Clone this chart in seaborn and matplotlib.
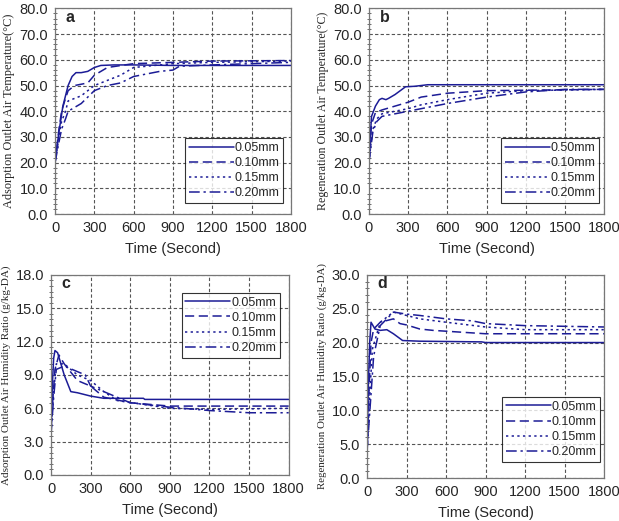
import numpy as np
import pandas as pd
import matplotlib
matplotlib.use("Agg")
import matplotlib.pyplot as plt
import seaborn as sns
from matplotlib.ticker import MultipleLocator, AutoMinorLocator

# ---------------- data ----------------
labels_a = ["0.05mm", "0.10mm", "0.15mm", "0.20mm"]
labels_b = ["0.50mm", "0.10mm", "0.15mm", "0.20mm"]

# panel a: adsorption outlet air temperature
a_t1 = [0, 30, 60, 100, 130, 160, 200, 250, 300, 350, 450, 600, 900, 1800]
a_y1 = [20, 32, 42, 50, 53.5, 55, 55, 55.5, 57, 57.8, 58, 58, 57.8, 57.8]
a_t2 = [0, 30, 50, 80, 100, 150, 250, 300, 400, 600, 900, 1200, 1800]
a_y2 = [20, 33, 40, 45, 48, 50, 51, 54, 57, 58.5, 59, 59.5, 59.7]
a_t3 = [0, 30, 50, 80, 100, 200, 300, 400, 500, 600, 900, 1200, 1800]
a_y3 = [20, 30, 36, 40, 44, 46, 50, 52, 54, 57, 58.5, 59, 59.5]
a_t4 = [0, 30, 50, 80, 100, 200, 300, 400, 500, 600, 800, 900, 950, 1200, 1800]
a_y4 = [20, 28, 33, 37, 40, 43, 48, 50, 51, 53.5, 55.5, 56, 57.5, 58, 59]

# panel b: regeneration outlet air temperature
b_t1 = [0, 10, 20, 50, 80, 100, 130, 150, 200, 280, 350, 450, 1800]
b_y1 = [20, 30, 38, 42, 44.5, 45, 44.5, 45, 46.5, 49.5, 49.7, 50.3, 50.3]
b_t2 = [0, 10, 20, 50, 100, 200, 300, 400, 600, 900, 1800]
b_y2 = [20, 28, 35, 39.5, 40.5, 42, 43.5, 45.5, 47, 48, 48.5]
b_t3 = [0, 15, 30, 60, 100, 200, 300, 400, 600, 900, 1200, 1800]
b_y3 = [20, 27, 33, 37, 39, 40, 41, 42.5, 44.5, 47, 48, 48.5]
b_t4 = [0, 15, 30, 60, 100, 200, 300, 500, 600, 900, 1200, 1500, 1800]
b_y4 = [20, 26, 32, 36, 38, 39, 40, 42, 43, 45.5, 47.5, 48.5, 48.5]

# panel c: adsorption outlet air humidity ratio
c_t1 = [0, 10, 20, 30, 50, 100, 150, 200, 300, 400, 700, 710, 1800]
c_y1 = [3.5, 8, 10.5, 11.2, 11, 9, 7.5, 7.4, 7.1, 6.9, 6.9, 6.8, 6.8]
c_t2 = [0, 15, 30, 60, 100, 200, 300, 400, 600, 900, 1800]
c_y2 = [4, 7, 9.5, 10.8, 10, 8.5, 8, 7, 6.5, 6.2, 6.2]
c_t3 = [0, 20, 40, 100, 200, 300, 400, 500, 900, 1200, 1800]
c_y3 = [3.8, 7.5, 10, 10, 9, 8.5, 7.5, 6.7, 6, 5.9, 6.0]
c_t4 = [0, 20, 40, 100, 200, 260, 300, 400, 500, 600, 900, 1200, 1500, 1800]
c_y4 = [3.6, 7, 9.5, 9.8, 9.3, 9, 8, 7.5, 7, 6.5, 6.1, 5.8, 5.6, 5.6]

# panel d: regeneration outlet air humidity ratio
d_t1 = [0, 10, 20, 30, 60, 100, 150, 200, 270, 400, 870, 900, 1800]
d_y1 = [4, 14, 20, 23, 22, 21.8, 21.9, 21.3, 20.3, 20.2, 20.1, 20.0, 20.0]
d_t2 = [0, 15, 30, 50, 100, 200, 250, 300, 400, 500, 900, 1800]
d_y2 = [4, 13, 20, 22, 23, 23.5, 22.8, 22.6, 22, 21.8, 21.3, 21.3]
d_t3 = [0, 20, 40, 100, 200, 300, 400, 600, 900, 1200, 1800]
d_y3 = [4, 12, 19, 23, 24.5, 24, 23.5, 23, 22.3, 21.9, 21.9]
d_t4 = [0, 25, 50, 100, 200, 300, 400, 600, 800, 900, 1200, 1800]
d_y4 = [4, 11, 18, 22.5, 24.5, 24.2, 24, 23.5, 23.2, 22.8, 22.5, 22.3]

x_ticks = [0, 300, 600, 900, 1200, 1500, 1800]

# ---------------- style ----------------
sns.set_style("white")
plt.rcParams["font.family"] = ["Liberation Sans", "DejaVu Sans"]
navy = "#1c1c96"
dash_styles = ["", (6, 3), (1.5, 2.2), (7, 2.5, 1.5, 2.5)]


def make_df(ts, ys, labels):
    frames = []
    for t, y, lab in zip(ts, ys, labels):
        frames.append(pd.DataFrame({"t": t, "v": y, "s": lab}))
    return pd.concat(frames, ignore_index=True)


fig = plt.figure(figsize=(6.19, 5.21), dpi=100)

panels = [
    dict(pos=[0.0889, 0.589, 0.381, 0.395], ts=[a_t1, a_t2, a_t3, a_t4],
         ys=[a_y1, a_y2, a_y3, a_y4], labels=labels_a, ylim=(0, 80), ystep=10,
         minor=5, letter="a", ylabel="Adsorption Outlet Air Temperature(°C)",
         ylsize=8.8, legloc="lower right", legbb=(0.966, 0.053)),
    dict(pos=[0.596, 0.589, 0.380, 0.395], ts=[b_t1, b_t2, b_t3, b_t4],
         ys=[b_y1, b_y2, b_y3, b_y4], labels=labels_b, ylim=(0, 80), ystep=10,
         minor=5, letter="b", ylabel="Regeneration Outlet Air Temperature(°C)",
         ylsize=8.6, legloc="lower right", legbb=(0.979, 0.053)),
    dict(pos=[0.0824, 0.0883, 0.384, 0.384], ts=[c_t1, c_t2, c_t3, c_t4],
         ys=[c_y1, c_y2, c_y3, c_y4], labels=labels_a, ylim=(0, 18), ystep=3,
         minor=6, letter="c", ylabel="Adsorption Outlet Air Humidity Ratio (g/kg-DA)",
         ylsize=8, legloc="upper right", legbb=(0.962, 0.91)),
    dict(pos=[0.593, 0.0825, 0.383, 0.39], ts=[d_t1, d_t2, d_t3, d_t4],
         ys=[d_y1, d_y2, d_y3, d_y4], labels=labels_a, ylim=(0, 30), ystep=5,
         minor=5, letter="d", ylabel="Regeneration Outlet Air Humidity Ratio (g/kg-DA)",
         ylsize=7.8, legloc="lower right", legbb=(0.983, 0.079)),
]

for p in panels:
    ax = fig.add_axes(p["pos"])
    df = make_df(p["ts"], p["ys"], p["labels"])
    dashes = {lab: d for lab, d in zip(p["labels"], dash_styles)}
    sns.lineplot(data=df, x="t", y="v", style="s", dashes=dashes,
                 color=navy, estimator=None, sort=False, lw=1.1, ax=ax)
    ax.set_xlim(0, 1800)
    ax.set_ylim(*p["ylim"])
    ax.set_xticks(x_ticks)
    ax.yaxis.set_major_locator(MultipleLocator(p["ystep"]))
    ax.yaxis.set_minor_locator(AutoMinorLocator(p["minor"]))
    ax.yaxis.set_major_formatter(matplotlib.ticker.FormatStrFormatter("%.1f"))
    ax.grid(True, which="major", color="#555555", linestyle=(0, (3, 2)), lw=0.8)
    for s in ax.spines.values():
        s.set_color("#777777")
        s.set_linewidth(0.9)
    ax.tick_params(axis="both", which="major", direction="out", length=3,
                   color="#555555", labelsize=10.5, pad=2)
    ax.tick_params(axis="y", which="minor", direction="inout", length=3,
                   color="#555555", left=True)
    ax.set_xlabel("Time (Second)", fontsize=10.5, labelpad=5)
    ax.set_ylabel(p["ylabel"], fontsize=p["ylsize"],
                  family=["Liberation Serif", "DejaVu Serif"], labelpad=3)
    ax.text(0.045, 0.955, p["letter"], transform=ax.transAxes, fontsize=11.5,
            fontweight="bold", va="center", ha="left")
    handles, labs = ax.get_legend_handles_labels()
    leg = ax.legend(handles, labs, loc=p["legloc"], bbox_to_anchor=p["legbb"],
                    fontsize=9, handlelength=3.6, handletextpad=0.05,
                    frameon=True, fancybox=False, borderpad=0.3,
                    labelspacing=0.25, borderaxespad=0)
    leg.get_frame().set_edgecolor("black")
    leg.get_frame().set_linewidth(0.8)
    for line in leg.get_lines():
        line.set_color(navy)

fig.savefig("out.png", dpi=100)
